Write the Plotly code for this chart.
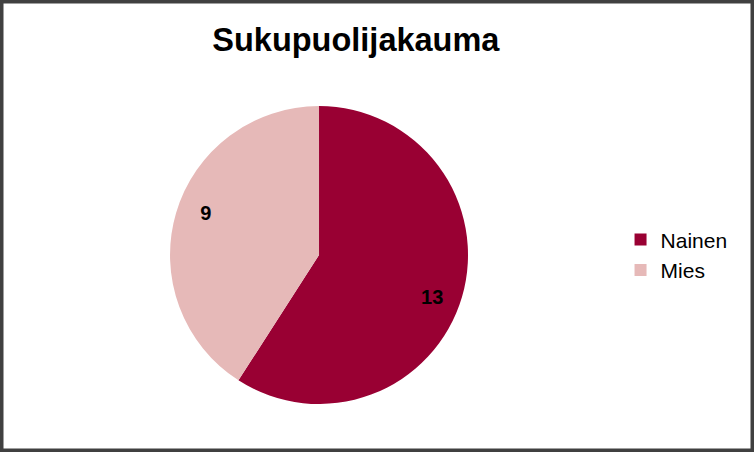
import plotly.graph_objects as go

# sukupuolijakauma
labels = ["Nainen", "Mies"]
values = [13, 9]
colors = ["#990033", "#E6B9B8"]

pie_domain = dict(x=[0.2255, 0.6207], y=[0.1062, 0.7655])

fig = go.Figure()
# the pie itself
fig.add_trace(go.Pie(
    labels=labels, values=values,
    marker=dict(colors=colors, line=dict(width=0)),
    sort=False, direction="clockwise", rotation=0,
    textinfo="none",
    domain=pie_domain,
    hoverinfo="skip",
))
# transparent ring on top, only to push the value labels out toward the rim
fig.add_trace(go.Pie(
    labels=labels, values=values, hole=0.62,
    marker=dict(colors=["rgba(0,0,0,0)"] * 2, line=dict(width=0)),
    sort=False, direction="clockwise", rotation=4,
    texttemplate="<b>%{value}</b>", textposition="inside",
    insidetextorientation="horizontal",
    textfont=dict(family="Liberation Sans, Arial", size=20, color="black"),
    domain=pie_domain, showlegend=False,
    hoverinfo="label+value+percent",
))

fig.update_layout(
    width=754, height=452,
    margin=dict(l=0, r=0, t=0, b=0),
    paper_bgcolor="white",
    font=dict(family="Liberation Sans, Arial", color="black"),
    title=dict(text="<b>Sukupuolijakauma</b>", x=0.472, xanchor="center",
               y=0.912, yanchor="middle", font=dict(size=32.5, color="black")),
    legend=dict(x=0.823, y=0.436, xanchor="left", yanchor="middle",
                font=dict(size=21), itemwidth=30),
    shapes=[dict(type="rect", xref="paper", yref="paper", x0=0, x1=1, y0=0, y1=1,
                 line=dict(color="#404040", width=7))],
)

fig.write_html("out.html", config={"displayModeBar": False},
               post_script="document.body.style.margin='0px';")
